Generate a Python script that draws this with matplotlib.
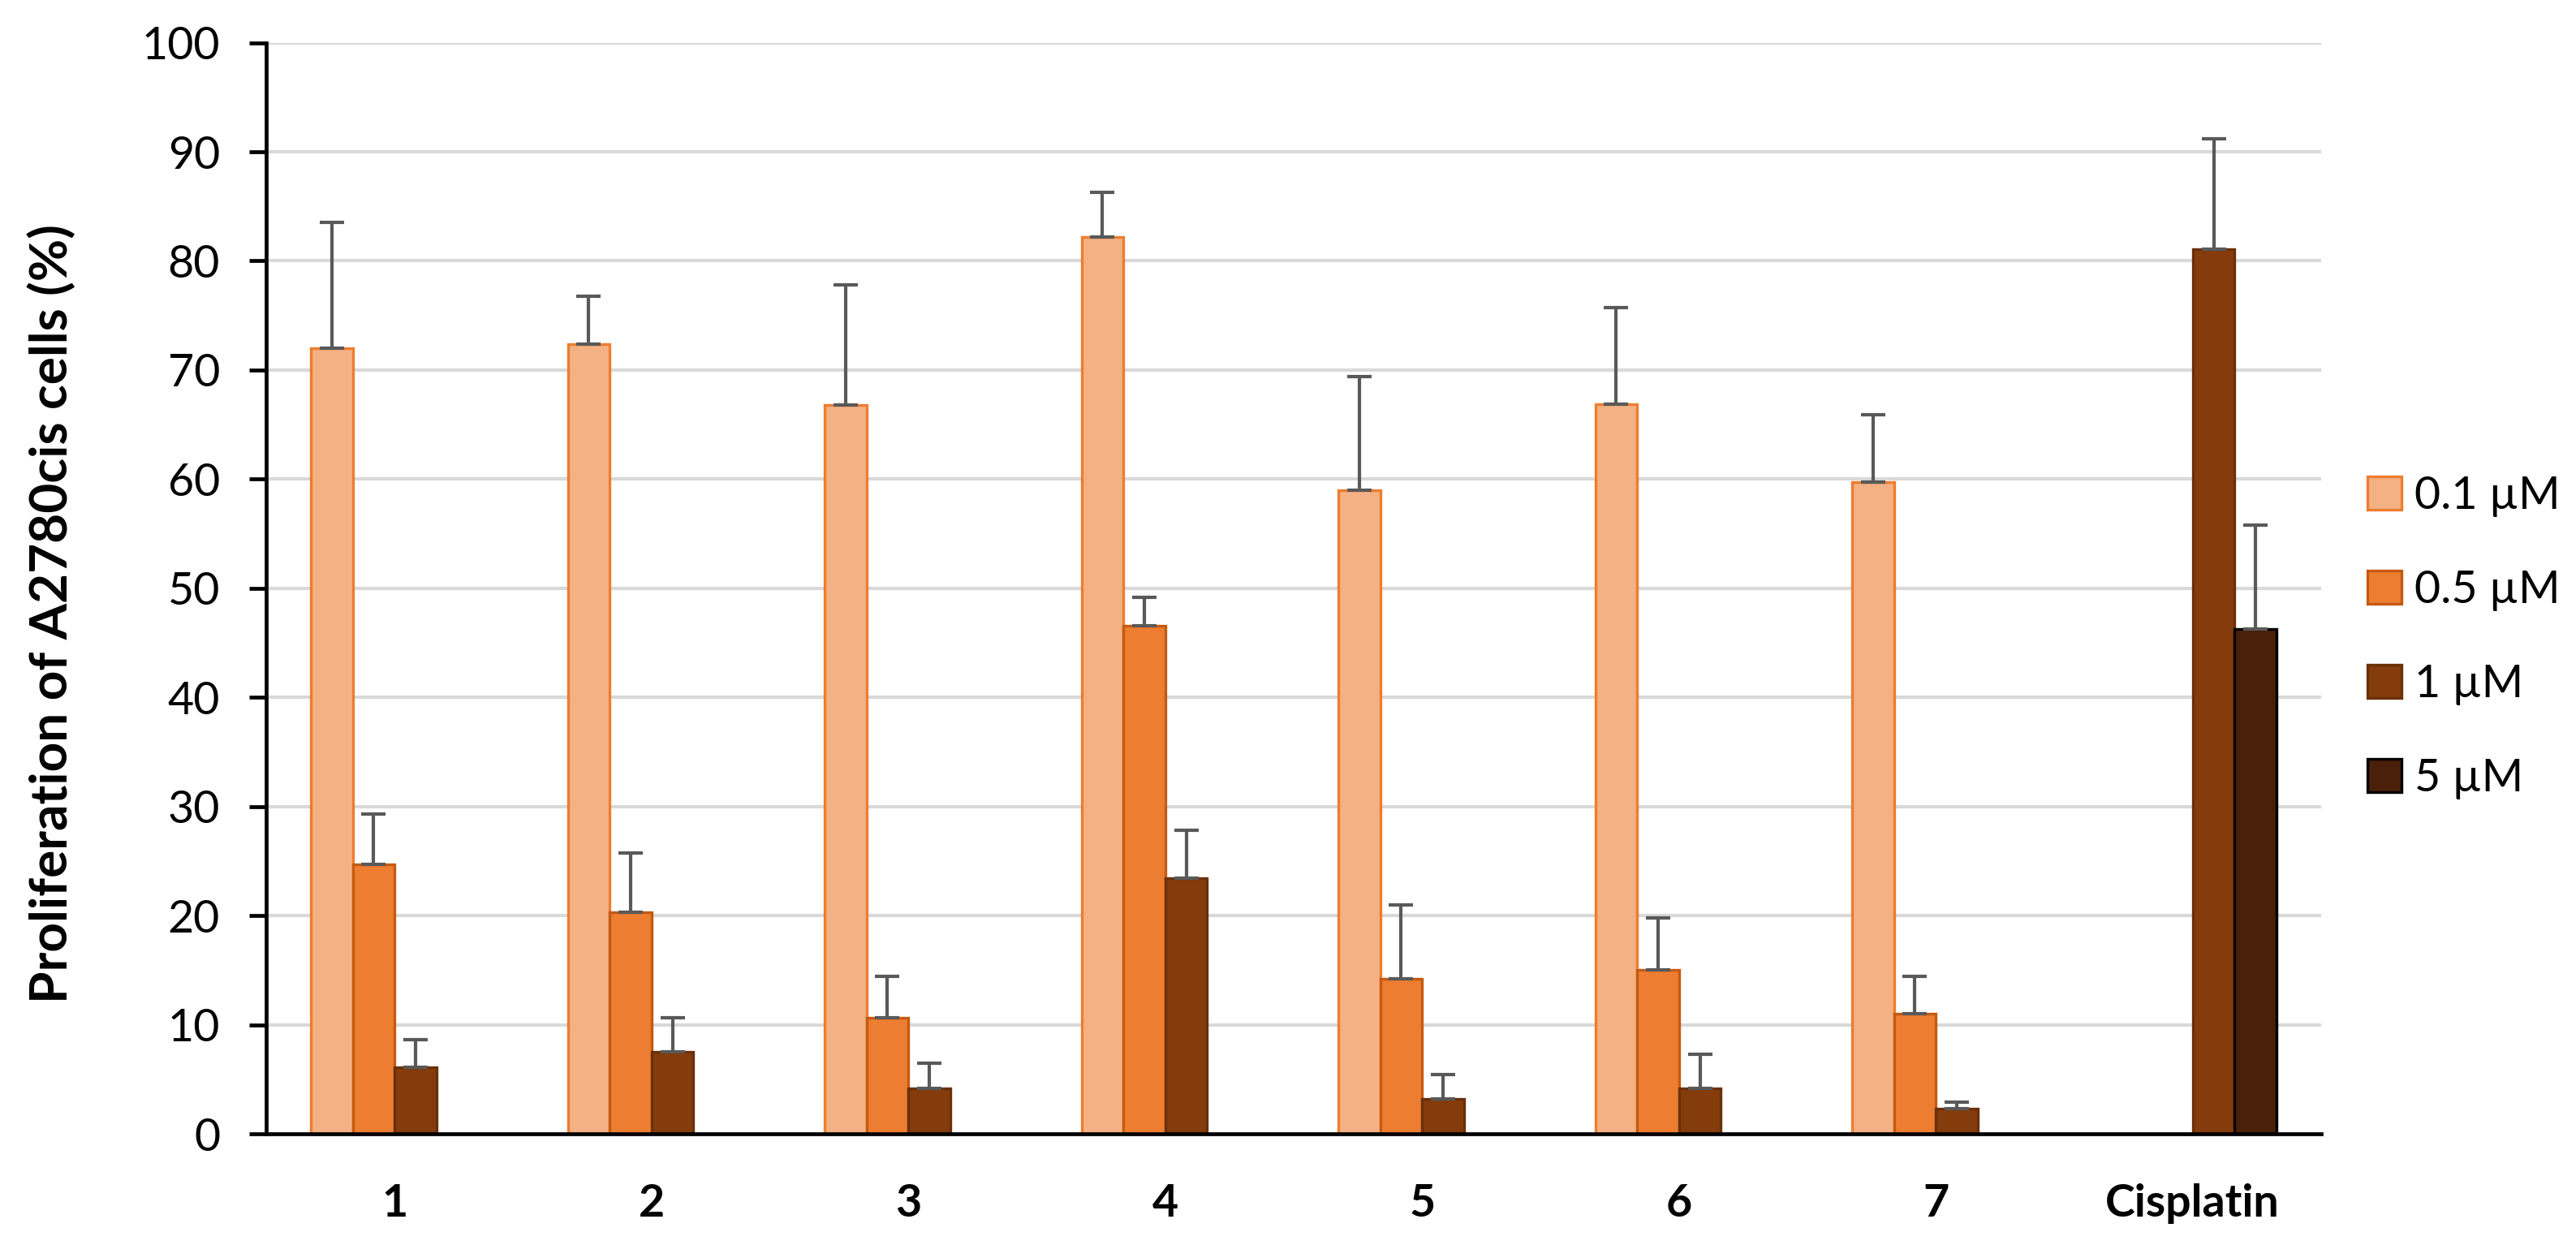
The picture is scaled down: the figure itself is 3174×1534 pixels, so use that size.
import numpy as np
import matplotlib
matplotlib.use("Agg")
import matplotlib.pyplot as plt

plt.rcParams['font.family'] = ['Lato', 'DejaVu Sans']

categories = ['1', '2', '3', '4', '5', '6', '7', 'Cisplatin']
series_labels = ['0.1 µM', '0.5 µM', '1 µM', '5 µM']

# mean values (NaN = not measured)
vals_01 = [72.0, 72.4, 66.8, 82.2, 59.0, 66.9, 59.7, np.nan]
vals_05 = [24.7, 20.3, 10.6, 46.6, 14.2, 15.0, 11.0, np.nan]
vals_1 = [6.1, 7.5, 4.2, 23.4, 3.2, 4.2, 2.3, 81.1]
vals_5 = [np.nan, np.nan, np.nan, np.nan, np.nan, np.nan, np.nan, 46.3]

# error (upper) values
err_01 = [11.5, 4.4, 11.0, 4.1, 10.4, 8.8, 6.2, np.nan]
err_05 = [4.6, 5.4, 3.8, 2.6, 6.8, 4.8, 3.4, np.nan]
err_1 = [2.5, 3.1, 2.3, 4.4, 2.2, 3.1, 0.6, 10.1]
err_5 = [np.nan, np.nan, np.nan, np.nan, np.nan, np.nan, np.nan, 9.5]

values = [vals_01, vals_05, vals_1, vals_5]
errors = [err_01, err_05, err_1, err_5]
fills = ['#F4B183', '#ED7D31', '#843C0C', '#4A200A']
edges = ['#ED7D31', '#C55A11', '#6B300A', '#000000']

W, H, DPI = 3174, 1534, 200
fig = plt.figure(figsize=(W / DPI, H / DPI), dpi=DPI)
ax = fig.add_axes([328 / W, 137 / H, 2532 / W, (1397 - 52.6) / H])

x = np.arange(len(categories))
bw = 0.163
offsets = (np.arange(4) - 1.5) * bw

for i in range(4):
    v = np.array(values[i], dtype=float)
    e = np.array(errors[i], dtype=float)
    ax.bar(x + offsets[i], v, width=bw, color=fills[i], edgecolor=edges[i],
           linewidth=1.2, label=series_labels[i], zorder=3)
    ax.errorbar(x + offsets[i], v, yerr=[np.zeros_like(e), e], fmt='none',
                ecolor='#595959', elinewidth=1.5, capsize=5.5, capthick=1.5,
                zorder=4)

ax.set_xlim(-0.5, len(categories) - 0.5)
ax.set_ylim(0, 100)
ax.set_yticks(np.arange(0, 101, 10))
ax.set_xticks(x)
ax.set_xticklabels(categories, fontweight='bold', fontsize=20)
ax.tick_params(axis='x', length=0, pad=22)
ax.tick_params(axis='y', length=7.5, width=1.7, pad=13, labelsize=20,
               direction='out')
ax.yaxis.grid(True, color='#D9D9D9', linewidth=1.5, zorder=0)
ax.set_axisbelow(True)
for s in ['top', 'right']:
    ax.spines[s].set_visible(False)
ax.spines['left'].set_linewidth(1.7)
ax.spines['bottom'].set_linewidth(1.7)
ax.spines['left'].set_zorder(5)
ax.spines['bottom'].set_zorder(5)

fig.text(63 / W, 1 - 756 / H, 'Proliferation of A2780cis cells (%)',
         rotation=90, ha='center', va='center', fontsize=23,
         fontweight='bold')

leg = ax.legend(loc='upper left', bbox_to_anchor=(2917 / W, 1 - 586 / H),
                bbox_transform=fig.transFigure, frameon=False, fontsize=20,
                handlelength=0.75, handleheight=0.75, handletextpad=0.3,
                labelspacing=1.17, borderaxespad=0, borderpad=0)

fig.savefig('out.png', dpi=DPI, facecolor='white')
